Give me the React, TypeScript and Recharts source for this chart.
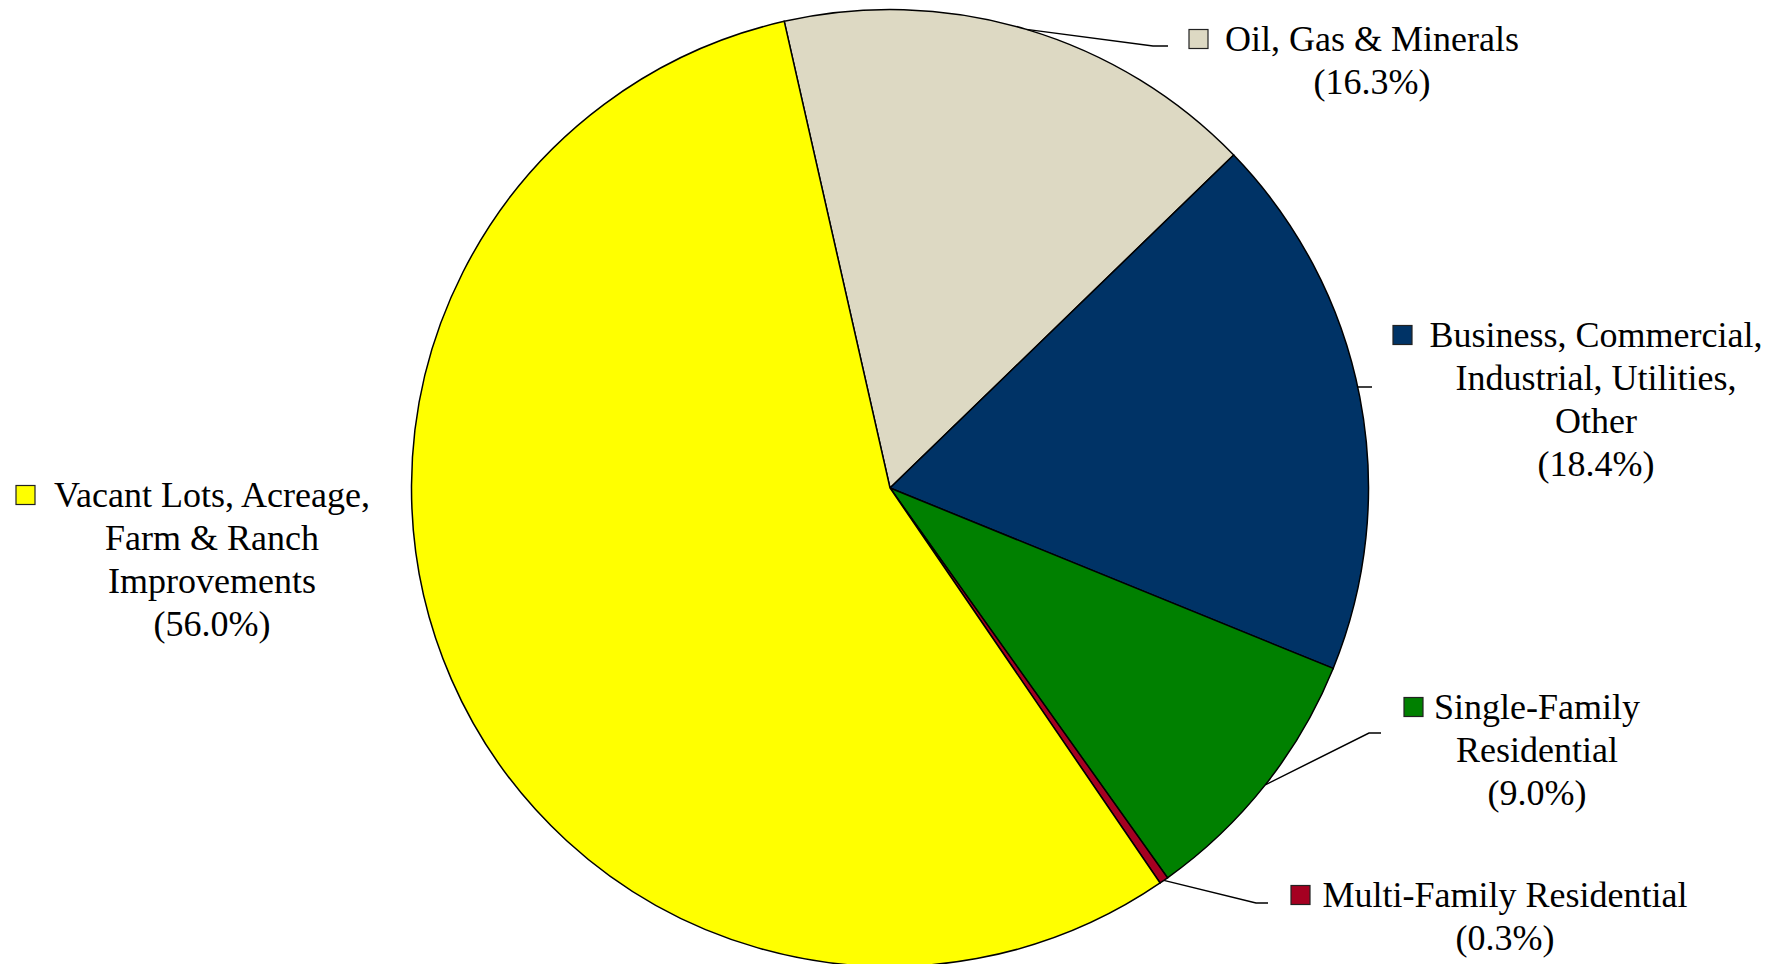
import React from "react";
import { PieChart, Pie, Cell } from "recharts";

const categories = [
  "Oil, Gas & Minerals",
  "Business, Commercial, Industrial, Utilities, Other",
  "Single-Family Residential",
  "Multi-Family Residential",
  "Vacant Lots, Acreage, Farm & Ranch Improvements",
];
const shares = [16.3, 18.4, 9.0, 0.3, 56.0];
const labelLines = [
  ["Oil, Gas & Minerals"],
  ["Business, Commercial,", "Industrial, Utilities,", "Other"],
  ["Single-Family", "Residential"],
  ["Multi-Family Residential"],
  ["Vacant Lots, Acreage,", "Farm & Ranch", "Improvements"],
];
const colors = ["#DDD9C3", "#003366", "#008000", "#A50021", "#FFFF00"];

const data = categories.map((name, i) => ({ name, value: shares[i] }));

// label layout (text placement and leader elbows), in chart pixels
type Layout = {
  tx: number; // centre of text lines
  by: number; // first baseline
  sq: number; // legend key x
  leader: null | "elbow" | "tick";
  ex?: number;
  ey?: number;
  endX?: number;
};
const LAYOUT: Layout[] = [
  { tx: 1372, by: 51, sq: 1189, leader: "elbow", ex: 1153, ey: 46, endX: 1168 },
  { tx: 1596, by: 347, sq: 1393, leader: "tick", ey: 387, endX: 1372 },
  { tx: 1537, by: 719, sq: 1404, leader: "elbow", ex: 1369, ey: 733, endX: 1381 },
  { tx: 1505, by: 907, sq: 1291, leader: "elbow", ex: 1256, ey: 903, endX: 1268 },
  { tx: 212, by: 507, sq: 16, leader: null },
];

const FONT = "'Liberation Serif', 'Times New Roman', serif";
const FS = 36;
const LH = 43;
const RAD = Math.PI / 180;

const renderLabel = (props: any) => {
  const { cx, cy, midAngle, outerRadius, index } = props;
  const L = LAYOUT[index];
  const lines = [...labelLines[index], `(${shares[index].toFixed(1)}%)`];
  let leader: React.ReactNode = null;
  if (L.leader === "elbow") {
    const sx = cx + outerRadius * Math.cos(-midAngle * RAD);
    const sy = cy + outerRadius * Math.sin(-midAngle * RAD);
    leader = (
      <polyline
        points={`${sx},${sy} ${L.ex},${L.ey} ${L.endX},${L.ey}`}
        fill="none"
        stroke="#000"
        strokeWidth={1.5}
      />
    );
  } else if (L.leader === "tick") {
    const dy = (L.ey as number) - cy;
    const sx = cx + Math.sqrt(outerRadius * outerRadius - dy * dy);
    leader = (
      <line x1={sx} y1={L.ey} x2={L.endX} y2={L.ey} stroke="#000" strokeWidth={1.5} />
    );
  }
  return (
    <g key={`lbl-${index}`}>
      {leader}
      <rect
        x={L.sq}
        y={L.by - 21.5}
        width={19}
        height={19}
        fill={colors[index]}
        stroke="#222"
        strokeWidth={1.2}
      />
      {lines.map((t, k) => (
        <text
          key={k}
          x={L.tx}
          y={L.by + k * LH}
          textAnchor="middle"
          fontFamily={FONT}
          fontSize={FS}
          fill="#000"
        >
          {t}
        </text>
      ))}
    </g>
  );
};

export default function App() {
  return (
    <div style={{ position: "absolute", left: 0, top: 0, width: 1782, height: 964, background: "#fff" }}>
      <PieChart width={1782} height={964} margin={{ top: 0, right: 0, bottom: 0, left: 0 }}>
        <Pie
          data={data}
          dataKey="value"
          nameKey="name"
          cx={890}
          cy={488}
          outerRadius={478.5}
          startAngle={102.77}
          endAngle={-257.23}
          stroke="#000"
          strokeWidth={1.5}
          isAnimationActive={false}
          labelLine={false}
          label={renderLabel}
        >
          {data.map((d, i) => (
            <Cell key={d.name} fill={colors[i]} />
          ))}
        </Pie>
      </PieChart>
    </div>
  );
}
